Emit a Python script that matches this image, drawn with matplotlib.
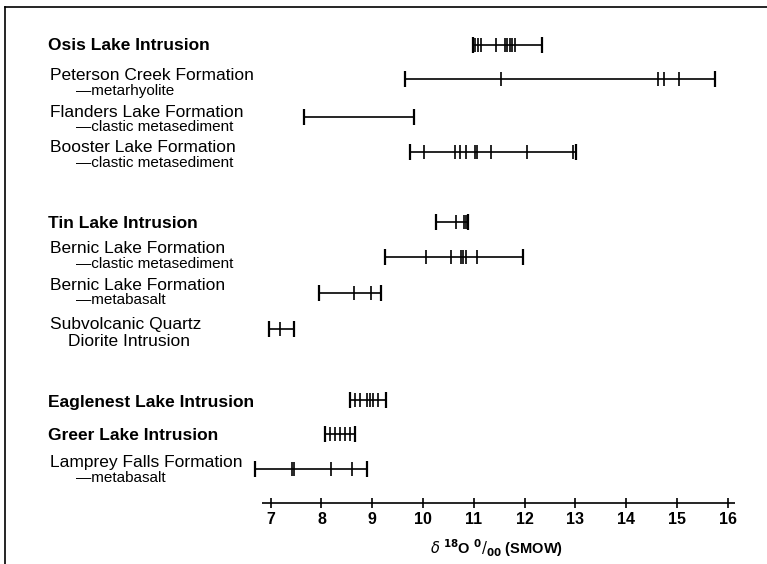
import matplotlib
matplotlib.use("Agg")
import matplotlib.pyplot as plt
from matplotlib.lines import Line2D

plt.rcParams['font.family'] = ['Liberation Sans', 'DejaVu Sans']

# ---- data ----
units = ["Osis Lake Intrusion", "Peterson Creek Formation", "Flanders Lake Formation",
         "Booster Lake Formation", "Tin Lake Intrusion", "Bernic Lake Formation",
         "Bernic Lake Formation", "Subvolcanic Quartz", "Eaglenest Lake Intrusion",
         "Greer Lake Intrusion", "Lamprey Falls Formation"]
subtitles = [None, "\u2014metarhyolite", "\u2014clastic metasediment", "\u2014clastic metasediment",
             None, "\u2014clastic metasediment", "\u2014metabasalt", "Diorite Intrusion",
             None, None, "\u2014metabasalt"]
is_intrusion = [True, False, False, False, True, False, False, False, True, True, False]

osis = [10.98, 11.02, 11.09, 11.14, 11.43, 11.61, 11.66, 11.71, 11.76, 11.82, 12.34]
peterson = [9.64, 11.53, 14.62, 14.74, 15.04, 15.75]
flanders = [7.66, 9.83]
booster = [9.74, 10.02, 10.63, 10.73, 10.84, 11.02, 11.07, 11.33, 12.05, 12.95, 13.02]
tin = [10.25, 10.65, 10.80, 10.84, 10.89]
bernic_clastic = [9.25, 10.06, 10.55, 10.75, 10.79, 10.84, 11.07, 11.97]
bernic_basalt = [7.96, 8.65, 8.97, 9.17]
subvolcanic = [6.97, 7.19, 7.45]
eaglenest = [8.56, 8.66, 8.76, 8.89, 8.95, 9.02, 9.11, 9.28]
greer = [8.07, 8.17, 8.27, 8.37, 8.46, 8.56, 8.66]
lamprey = [6.69, 7.41, 7.46, 8.18, 8.61, 8.89]
series = [osis, peterson, flanders, booster, tin, bernic_clastic, bernic_basalt,
          subvolcanic, eaglenest, greer, lamprey]

xticks = [7, 8, 9, 10, 11, 12, 13, 14, 15, 16]
xlabel = r"$\delta$ $^{\mathbf{18}}$O $^{\mathbf{0}}/_{\mathbf{00}}$ (SMOW)"

# ---- layout (pixel rows from top) ----
bar_rows = [45, 79, 117, 152, 222, 257, 293, 329, 400, 434, 469]
label_rows = [46, 76, 112, 148, 224, 249, 286, 324, 402, 436, 463]
sub_rows = [None, 91, 127, 163, None, 264, 300, 341, None, None, 478]
axis_row = 503

W, H = 767, 564
fig = plt.figure(figsize=(W / 100, H / 100), dpi=100)
x0, x1 = 6.0, 16.5
px7, ppu = 270.7, 50.78
left_px = px7 + (x0 - 7) * ppu
right_px = px7 + (x1 - 7) * ppu
ax = fig.add_axes([left_px / W, 0, (right_px - left_px) / W, 1])
ax.set_xlim(x0, x1)
ax.set_ylim(H, 0)
ax.axis('off')

# ranges
for vals, yr in zip(series, bar_rows):
    ax.hlines(yr, min(vals), max(vals), color='black', lw=1.2)
    ax.vlines(vals, yr - 7, yr + 7, color='black', lw=1.2)
    ax.vlines([min(vals), max(vals)], yr - 8, yr + 8, color='black', lw=1.6)

# axis
ax.hlines(axis_row, 6.83, 16.14, color='black', lw=1.2)
ax.vlines(xticks, axis_row - 5, axis_row + 5, color='black', lw=1.2)
for t in xticks:
    ax.text(t, axis_row + 16, str(t), ha='center', va='center', fontsize=11.5,
            fontweight='semibold')
ax.text(11.45, 548, xlabel, ha='center', va='center', fontsize=10.5, fontweight='bold')

# labels
for name, sub, bold, ly, sy in zip(units, subtitles, is_intrusion, label_rows, sub_rows):
    fig.text(48 / W if bold else 50 / W, 1 - ly / H, name, ha='left', va='center',
             fontsize=12.5, fontweight='bold' if bold else 'normal')
    if sub is not None:
        diorite = sub.startswith("Diorite")
        sx = 68 if diorite else 76
        fs = 12.5 if diorite else 11
        fig.text(sx / W, 1 - sy / H, sub, ha='left', va='center', fontsize=fs)

# frame
fig.add_artist(Line2D([5 / W, 5 / W], [0, 1 - 7 / H], color='black', lw=1.2, transform=fig.transFigure))
fig.add_artist(Line2D([5 / W, 1], [1 - 7 / H, 1 - 7 / H], color='black', lw=1.2, transform=fig.transFigure))

fig.savefig("out.png", dpi=100)
